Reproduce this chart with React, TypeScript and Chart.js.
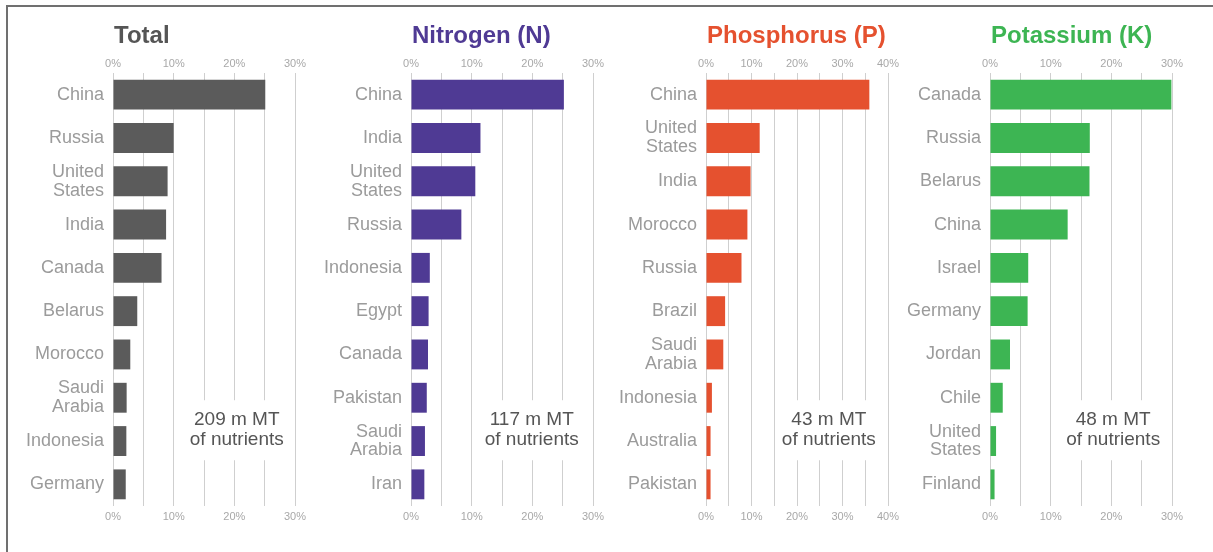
import React, { useEffect, useRef } from "react";
import { Chart, registerables } from "chart.js";

Chart.register(...registerables);

// ---------- data ----------
const panelTitles = ["Total", "Nitrogen (N)", "Phosphorus (P)", "Potassium (K)"];
const panelColors = ["#5b5b5b", "#4f3a94", "#e5512f", "#3db553"];
const titleColors = ["#555555", "#4f3a94", "#e5512f", "#3db553"];

const totalCountries = ["China", "Russia", "United States", "India", "Canada", "Belarus", "Morocco", "Saudi Arabia", "Indonesia", "Germany"];
const totalValues = [25.1, 10.0, 9.0, 8.75, 8.0, 4.0, 2.85, 2.25, 2.2, 2.1];

const nitrogenCountries = ["China", "India", "United States", "Russia", "Indonesia", "Egypt", "Canada", "Pakistan", "Saudi Arabia", "Iran"];
const nitrogenValues = [25.2, 11.45, 10.6, 8.3, 3.1, 2.9, 2.8, 2.6, 2.3, 2.2];

const phosphorusCountries = ["China", "United States", "India", "Morocco", "Russia", "Brazil", "Saudi Arabia", "Indonesia", "Australia", "Pakistan"];
const phosphorusValues = [35.9, 11.8, 9.8, 9.1, 7.8, 4.2, 3.8, 1.3, 1.0, 1.0];

const potassiumCountries = ["Canada", "Russia", "Belarus", "China", "Israel", "Germany", "Jordan", "Chile", "United States", "Finland"];
const potassiumValues = [29.9, 16.45, 16.4, 12.8, 6.3, 6.2, 3.3, 2.1, 1.0, 0.75];

const axisMax = [30, 30, 40, 30];
const gridStep = 5;
const labelStep = 10;

const noteLines = [
  ["209 m MT", "of nutrients"],
  ["117 m MT", "of nutrients"],
  ["43 m MT", "of nutrients"],
  ["48 m MT", "of nutrients"],
];
const noteX = [20.4, 19.9, 27.0, 20.3];
const noteY = 7.75;

// ---------- layout ----------
const FONT = '"Liberation Sans", Arial, Helvetica, sans-serif';
const canvasLefts = [3, 301, 596, 880];
const CANVAS_W = 313;
const CANVAS_H = 552;
const LABEL_W = 110;
const RIGHT_PAD = 21;
const TOP_H = 73;
const BOTTOM_H = 46;

type PanelProps = {
  idx: number;
  countries: string[];
  values: number[];
};

function Panel({ idx, countries, values }: PanelProps) {
  const ref = useRef<HTMLCanvasElement>(null);

  useEffect(() => {
    if (!ref.current) return;
    const max = axisMax[idx];
    const tickOpts = (pad: number) => ({
      stepSize: gridStep,
      autoSkip: false,
      maxRotation: 0,
      padding: pad,
      color: "#a8a8a8",
      font: { family: FONT, size: 11 },
      callback: (v: any) => (Number(v) % labelStep === 0 ? `${v}%` : ""),
    });
    const chart = new Chart(ref.current, {
      type: "bar",
      data: {
        labels: countries.map((c) => c.split(" ")),
        datasets: [
          {
            data: values,
            backgroundColor: panelColors[idx],
            borderWidth: 0,
            barPercentage: 0.69,
            categoryPercentage: 1,
          },
        ],
      },
      options: {
        indexAxis: "y",
        responsive: false,
        animation: false,
        layout: { padding: { left: 0, right: RIGHT_PAD, top: 0, bottom: 0 } },
        plugins: {
          legend: { display: false },
          tooltip: { enabled: false },
          title: { display: false },
        },
        scales: {
          x: {
            type: "linear",
            position: "top",
            min: 0,
            max,
            grid: { color: "#cfcfcf", lineWidth: 1, drawTicks: false },
            border: { display: false },
            ticks: tickOpts(2),
            afterFit: (s: any) => {
              s.height = TOP_H;
            },
          },
          x2: {
            type: "linear",
            axis: "x",
            position: "bottom",
            min: 0,
            max,
            grid: { display: false, drawTicks: false },
            border: { display: false },
            ticks: tickOpts(4),
            afterFit: (s: any) => {
              s.height = BOTTOM_H;
            },
          },
          y: {
            grid: { display: false, drawTicks: false },
            border: { display: false },
            ticks: {
              autoSkip: false,
              padding: 9,
              color: "#9b9b9b",
              font: { family: FONT, size: 18, lineHeight: 1.05 },
            },
            afterFit: (s: any) => {
              s.width = LABEL_W;
            },
          },
        },
      } as any,
      plugins: [
        {
          id: "deco",
          afterDraw(c: any) {
            const ctx = c.ctx;
            const area = c.chartArea;
            ctx.save();
            // title
            ctx.font = `bold 24px ${FONT}`;
            ctx.fillStyle = titleColors[idx];
            ctx.textAlign = "left";
            ctx.textBaseline = "alphabetic";
            ctx.fillText(panelTitles[idx], area.left + 1, 43);
            // note
            const cx = c.scales.x.getPixelForValue(noteX[idx]);
            const cy = c.scales.y.getPixelForValue(noteY);
            ctx.fillStyle = "#ffffff";
            ctx.fillRect(cx - 52, cy - 30, 104, 60);
            ctx.font = `19px ${FONT}`;
            ctx.fillStyle = "#555555";
            ctx.textAlign = "center";
            ctx.textBaseline = "middle";
            ctx.fillText(noteLines[idx][0], cx, cy - 10);
            ctx.fillText(noteLines[idx][1], cx, cy + 10);
            ctx.restore();
          },
        },
      ],
    });
    return () => chart.destroy();
  }, [idx, countries, values]);

  return (
    <canvas
      ref={ref}
      width={CANVAS_W}
      height={CANVAS_H}
      style={{ position: "absolute", left: canvasLefts[idx], top: 0, width: CANVAS_W, height: CANVAS_H }}
    />
  );
}

export default function App() {
  return (
    <div
      style={{
        position: "fixed",
        left: 0,
        top: 0,
        width: 1213,
        height: 552,
        background: "#ffffff",
        overflow: "hidden",
      }}
    >
      <div
        style={{
          position: "absolute",
          left: 6,
          top: 5,
          width: 1213,
          height: 560,
          borderTop: "2px solid #707070",
          borderLeft: "2px solid #707070",
          boxSizing: "border-box",
        }}
      />
      <Panel idx={0} countries={totalCountries} values={totalValues} />
      <Panel idx={1} countries={nitrogenCountries} values={nitrogenValues} />
      <Panel idx={2} countries={phosphorusCountries} values={phosphorusValues} />
      <Panel idx={3} countries={potassiumCountries} values={potassiumValues} />
    </div>
  );
}
